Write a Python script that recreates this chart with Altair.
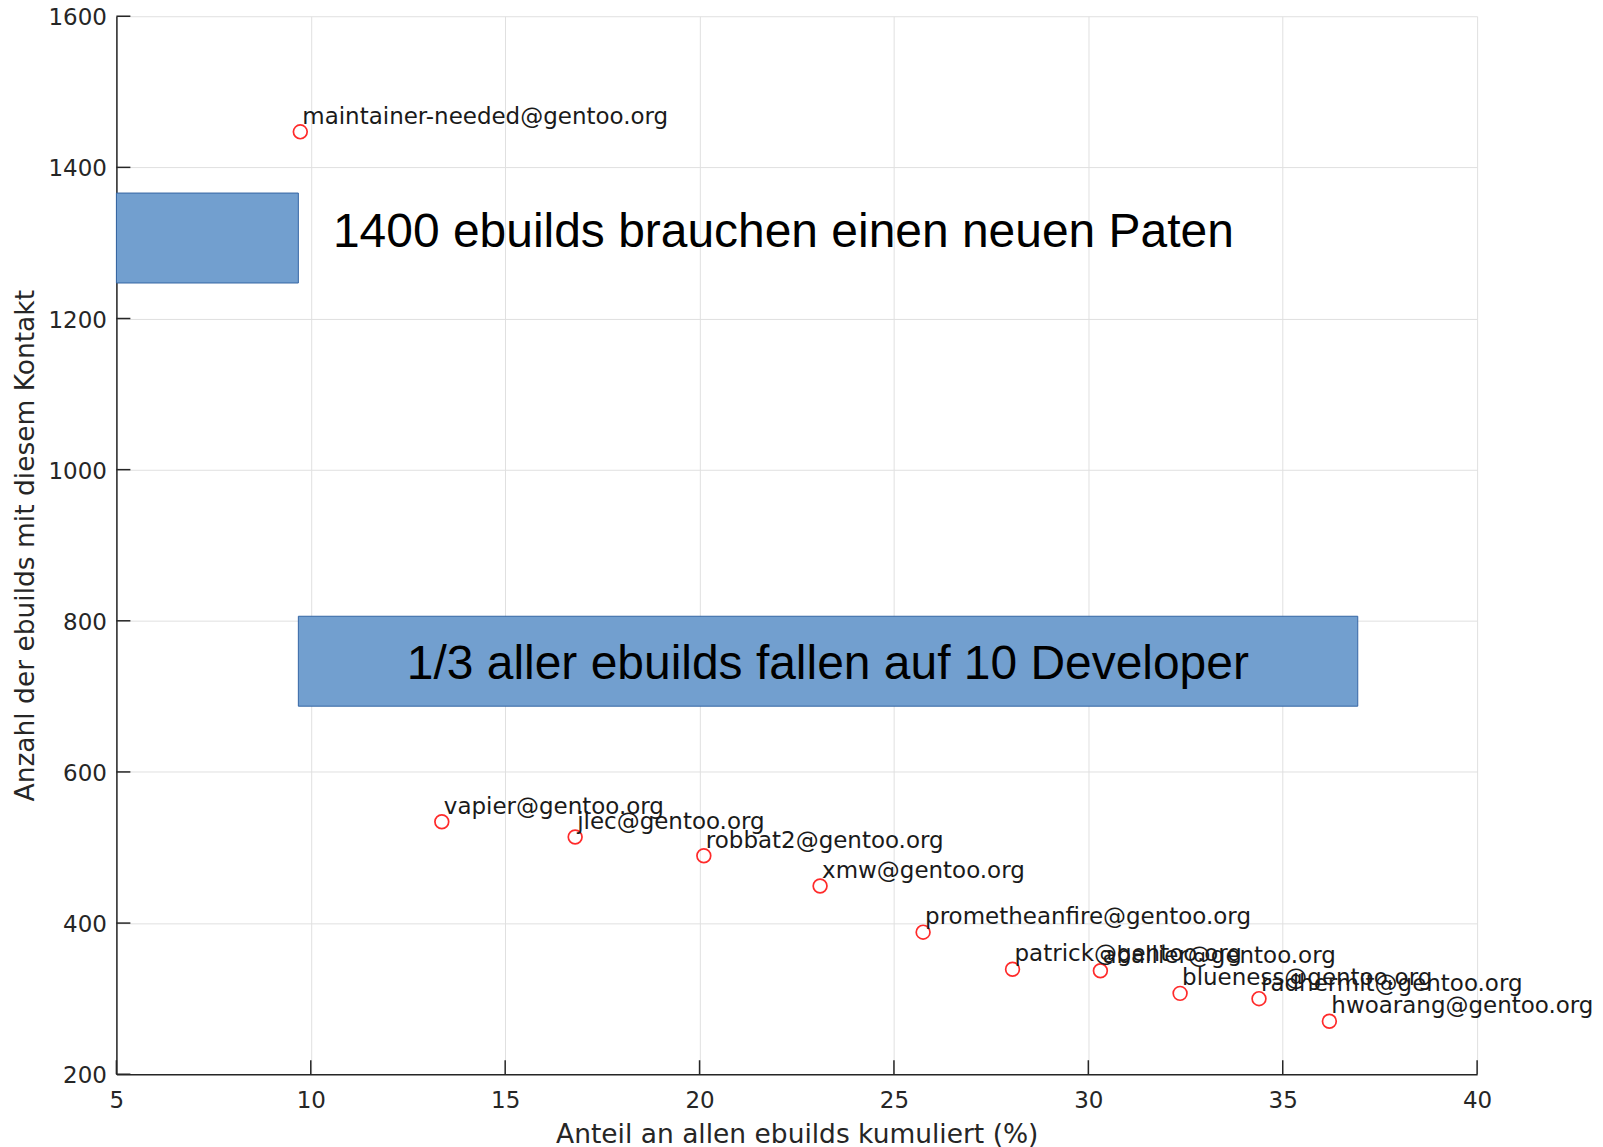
import altair as alt
import pandas as pd

# --- data ---
names = [
    "maintainer-needed@gentoo.org", "vapier@gentoo.org", "jlec@gentoo.org",
    "robbat2@gentoo.org", "xmw@gentoo.org", "prometheanfire@gentoo.org",
    "patrick@gentoo.org", "aballier@gentoo.org", "blueness@gentoo.org",
    "radhermit@gentoo.org", "hwoarang@gentoo.org",
]
cum_pct = [9.73, 13.37, 16.80, 20.11, 23.10, 25.75, 28.05, 30.31, 32.36, 34.39, 36.20]
counts = [1447, 534, 514, 489, 449, 388, 339, 337, 307, 300, 270]

x_ticks = [5, 10, 15, 20, 25, 30, 35, 40]
y_ticks = [200, 400, 600, 800, 1000, 1200, 1400, 1600]

# annotation boxes (data units)
box_x = [5.0, 9.68]
box_x2 = [9.68, 36.93]
box_y = [1247, 687]
box_y2 = [1366, 806]

note1_text = ["1400 ebuilds brauchen einen neuen Paten"]
note1_x = [10.57]
note1_y = [1313]
note2_text = ["1/3 aller ebuilds fallen auf 10 Developer"]
note2_x = [23.30]
note2_y = [742]

W, H = 1362, 1059
FONT = "DejaVu Sans"
DARK = "#262626"

df = pd.DataFrame({"name": names, "pct": cum_pct, "n": counts})
boxes = pd.DataFrame({"x": box_x, "x2": box_x2, "y": box_y, "y2": box_y2})
xt = pd.DataFrame({"t": x_ticks})
yt = pd.DataFrame({"t": y_ticks})
n1 = pd.DataFrame({"text": note1_text, "x": note1_x, "y": note1_y})
n2 = pd.DataFrame({"text": note2_text, "x": note2_x, "y": note2_y})

xscale = alt.Scale(domain=[5, 40], nice=False, zero=False)
yscale = alt.Scale(domain=[200, 1600], nice=False, zero=False)

x_axis = alt.Axis(
    values=x_ticks, format="d", title="Anteil an allen ebuilds kumuliert (%)",
    labelPadding=26, labelBaseline="middle", labelFlush=False, labelOverlap=False,
    titleX=W / 2, titleY=60, titleBaseline="middle", titleAlign="center",
)
y_axis = alt.Axis(
    values=y_ticks, format="d", title="Anzahl der ebuilds mit diesem Kontakt",
    labelPadding=10, labelFlush=False, labelOverlap=False, labelOffset=1.5,
    titleX=-91, titleY=H / 2, titleAngle=270, titleBaseline="middle", titleAlign="center",
)


def X(field):
    return alt.X(field, scale=xscale, axis=x_axis)


def Y(field):
    return alt.Y(field, scale=yscale, axis=y_axis)


rects = alt.Chart(boxes).mark_rect(fill="#729fcf", stroke="#3465a4", strokeWidth=1).encode(
    x=X("x:Q"), x2="x2:Q", y=Y("y:Q"), y2="y2:Q",
)

xticks = alt.Chart(xt).mark_rule(color=DARK, strokeWidth=1.5).encode(
    x=X("t:Q"), y=alt.value(H), y2=alt.value(H - 14),
)
yticks = alt.Chart(yt).mark_rule(color=DARK, strokeWidth=1.5).encode(
    y=Y("t:Q"), x=alt.value(0), x2=alt.value(14),
)

points = alt.Chart(df).mark_point(
    shape="circle", filled=False, color="#ff2a2a", size=190, strokeWidth=1.7, opacity=1
).encode(x=X("pct:Q"), y=Y("n:Q"))

labels = alt.Chart(df).mark_text(
    font=FONT, fontSize=23, color="#1a1a1a", align="left", baseline="alphabetic", dx=2, dy=-8
).encode(x=X("pct:Q"), y=Y("n:Q"), text="name:N")

note1 = alt.Chart(n1).mark_text(
    font="Liberation Sans", fontSize=48, color="black", align="left", baseline="middle"
).encode(x=X("x:Q"), y=Y("y:Q"), text="text:N")
note2 = alt.Chart(n2).mark_text(
    font="Liberation Sans", fontSize=48, color="black", align="center", baseline="middle"
).encode(x=X("x:Q"), y=Y("y:Q"), text="text:N")

chart = alt.layer(rects, xticks, yticks, points, labels, note1, note2).properties(
    width=W, height=H,
    padding={"left": 108.5, "top": 7.7, "right": 118, "bottom": 72},
    autosize=alt.AutoSizeParams(type="none"),
).configure_view(strokeWidth=0).configure_axis(
    grid=True, gridColor="#e0e0e0", gridWidth=1,
    domainColor=DARK, domainWidth=1.5,
    ticks=False, tickSize=0,
    labelFont=FONT, labelFontSize=23, labelColor=DARK,
    titleFont=FONT, titleFontSize=26.5, titleFontWeight="normal", titleColor=DARK,
)

chart.save("out.html", embed_options={"renderer": "svg", "actions": False})
